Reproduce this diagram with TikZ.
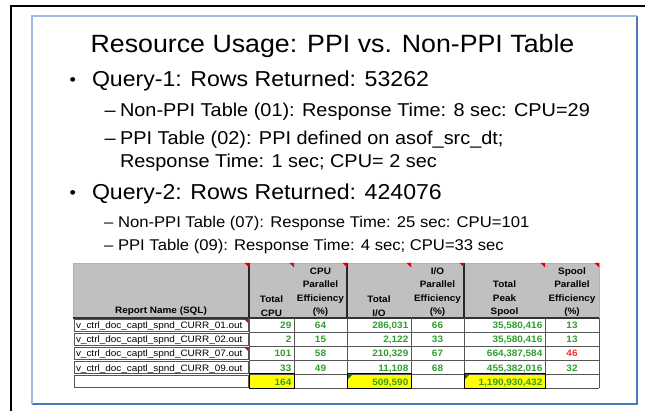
\documentclass[tikz,border=0pt]{standalone}
\usepackage{fontspec}
\setmainfont[FakeStretch=1.07]{Liberation Sans}
\definecolor{framelight}{HTML}{9DBAE2}
\definecolor{framedark}{HTML}{4A78B8}
\definecolor{hdrgray}{HTML}{C0C0C0}
\definecolor{gridgray}{HTML}{555555}
\definecolor{numgreen}{HTML}{2E9E2E}
\definecolor{numred}{HTML}{F03030}
\definecolor{cellyellow}{HTML}{FFFF00}
\definecolor{cmtred}{HTML}{E00000}
\definecolor{errgreen}{HTML}{207020}
\tikzset{
  txt/.style={anchor=base west, inner sep=0pt, outer sep=0pt},
  ttl/.style={anchor=base, inner sep=0pt, font=\fontsize{25}{30}\selectfont},
  lvlone/.style={txt, font=\fontsize{21.6}{26}\selectfont},
  lvltwo/.style={txt, font=\fontsize{18.6}{22}\selectfont},
  lvlsmall/.style={txt, font=\fontsize{15.55}{18}\selectfont},
  bul/.style={txt, font=\fontsize{17}{20}\selectfont},
  hdr/.style={anchor=south, inner sep=0pt, align=center, font=\fontsize{9.3}{13.3}\selectfont\bfseries},
  namecell/.style={txt, font=\fontsize{9.3}{11}\selectfont},
  numr/.style={anchor=base east, inner sep=0pt, text=numgreen, font=\fontsize{9.3}{11}\selectfont\bfseries},
  numc/.style={anchor=base, inner sep=0pt, text=numgreen, font=\fontsize{9.3}{11}\selectfont\bfseries},
  grid/.style={draw=gridgray, line width=0.8pt},
  thick line/.style={draw=black!85, line width=1.6pt},
  cmt/.style={fill=cmtred, draw=none},
  errm/.style={fill=errgreen, draw=none}
}
\begin{document}
\begin{tikzpicture}[x=1pt,y=-1pt]
\useasboundingbox (0,0) rectangle (645,411);
% outer black frame
\draw[line width=1.6pt, black] (11,411) -- (11,6) -- (645,6);
% inner blue frame
\draw[line width=1.6pt, framedark] (32,404) -- (637,404) -- (637,16);
\draw[line width=1.6pt, framelight] (32,404) -- (32,16) -- (637,16);

% title and bullets
\node[ttl] (title) at (332.5,53) {Resource Usage: PPI vs. Non-PPI Table};
\node[bul] (b1) at (69.5,86) {•};
\node[lvlone] (q1) at (92,87) {Query-1: Rows Returned: 53262};
\node[lvltwo] (d11) at (104.5,117) {–};
\node[lvltwo] (q1a) at (120,117) {Non-PPI Table (01): Response Time: 8 sec: CPU=29};
\node[lvltwo] (d12) at (104.5,145) {–};
\node[lvltwo] (q1b) at (120,145) {PPI Table (02): PPI defined on asof\_src\_dt;};
\node[lvltwo] (q1c) at (120,168) {Response Time: 1 sec; CPU= 2 sec};
\node[bul] (b2) at (69.5,199) {•};
\node[lvlone] (q2) at (92,200) {Query-2: Rows Returned: 424076};
\node[lvlsmall] (d21) at (104,228) {–};
\node[lvlsmall] (q2a) at (118,228) {Non-PPI Table (07): Response Time: 25 sec: CPU=101};
\node[lvlsmall] (d22) at (104,251) {–};
\node[lvlsmall] (q2b) at (118,251) {PPI Table (09): Response Time: 4 sec; CPU=33 sec};

% ---------- table ----------
% header
\fill[hdrgray] (73,263) rectangle (599,318);
\draw[draw=gray!60, line width=0.6pt] (73,318) -- (73,263) -- (599,263) -- (599,318);
\draw[thick line] (249,263) -- (249,318);
\draw[thick line] (347,263) -- (347,318);
\draw[thick line] (464,263) -- (464,318);
\draw[draw=black!80, line width=1.2pt] (73,318) -- (599,318);
\node[anchor=base, inner sep=0pt, font=\fontsize{9.3}{11}\selectfont\bfseries] (h0) at (161,314) {Report Name (SQL)};
\node[hdr] (h1) at (271.5,316.5) {Total\\CPU};
\node[hdr] (h2) at (320.5,316.5) {CPU\\Parallel\\Efficiency\\(\%)};
\node[hdr] (h3) at (379,316.5) {Total\\I/O};
\node[hdr] (h4) at (437.5,316.5) {I/O\\Parallel\\Efficiency\\(\%)};
\node[hdr] (h5) at (504.5,316.5) {Total\\Peak\\Spool};
\node[hdr] (h6) at (572,316.5) {Spool\\Parallel\\Efficiency\\(\%)};
% comment markers on header
\foreach \cx in {249,294,347,411,464,545,599}
  \fill[cmt] (\cx-4.5,263) -- (\cx,263) -- (\cx,267.5) -- cycle;

% yellow totals
\fill[cellyellow] (249,374) rectangle (294,388);
\fill[cellyellow] (347,374) rectangle (411,388);
\fill[cellyellow] (464,374) rectangle (545,388);

% data grid
\foreach \ry in {318,332,346,360,374} {
  \draw[grid] (74,\ry+1) rectangle (248,\ry+13);
}
\foreach \ry in {332,346,360,374,388}
  \draw[grid] (249,\ry) -- (599,\ry);
\foreach \cx in {249,294,347,411,464,545,599}
  \draw[grid] (\cx,318) -- (\cx,388);
\draw[draw=black, line width=1pt] (249,374) rectangle (294,388);
\draw[draw=black, line width=1pt] (347,374) rectangle (411,388);
\draw[draw=black, line width=1pt] (464,374) rectangle (545,388);
% comment / error markers on cells
\fill[cmt] (244,319) -- (248,319) -- (248,323) -- cycle;
\fill[cmt] (244,347) -- (248,347) -- (248,351) -- cycle;
\fill[errm] (348,375) -- (352,375) -- (348,379) -- cycle;
\fill[errm] (465,375) -- (469,375) -- (465,379) -- cycle;

% rows
\node[namecell] (n1) at (76,329) {v\_ctrl\_doc\_captl\_spnd\_CURR\_01.out};
\node[namecell] (n2) at (76,343) {v\_ctrl\_doc\_captl\_spnd\_CURR\_02.out};
\node[namecell] (n3) at (76,357) {v\_ctrl\_doc\_captl\_spnd\_CURR\_07.out};
\node[namecell] (n4) at (76,371) {v\_ctrl\_doc\_captl\_spnd\_CURR\_09.out};

\node[numr] (c11) at (291.5,329) {29};
\node[numc] (c12) at (320.5,329) {64};
\node[numr] (c13) at (408.5,329) {286,031};
\node[numc] (c14) at (437.5,329) {66};
\node[numr] (c15) at (542.5,329) {35,580,416};
\node[numc] (c16) at (572,329) {13};

\node[numr] (c21) at (291.5,343) {2};
\node[numc] (c22) at (320.5,343) {15};
\node[numr] (c23) at (408.5,343) {2,122};
\node[numc] (c24) at (437.5,343) {33};
\node[numr] (c25) at (542.5,343) {35,580,416};
\node[numc] (c26) at (572,343) {13};

\node[numr] (c31) at (291.5,357) {101};
\node[numc] (c32) at (320.5,357) {58};
\node[numr] (c33) at (408.5,357) {210,329};
\node[numc] (c34) at (437.5,357) {67};
\node[numr] (c35) at (542.5,357) {664,387,584};
\node[numc, text=numred] (c36) at (572,357) {46};

\node[numr] (c41) at (291.5,371) {33};
\node[numc] (c42) at (320.5,371) {49};
\node[numr] (c43) at (408.5,371) {11,108};
\node[numc] (c44) at (437.5,371) {68};
\node[numr] (c45) at (542.5,371) {455,382,016};
\node[numc] (c46) at (572,371) {32};

\node[numr] (t1) at (291.5,385) {164};
\node[numr] (t3) at (408.5,385) {509,590};
\node[numr] (t5) at (542.5,385) {1,190,930,432};
\end{tikzpicture}
\end{document}
